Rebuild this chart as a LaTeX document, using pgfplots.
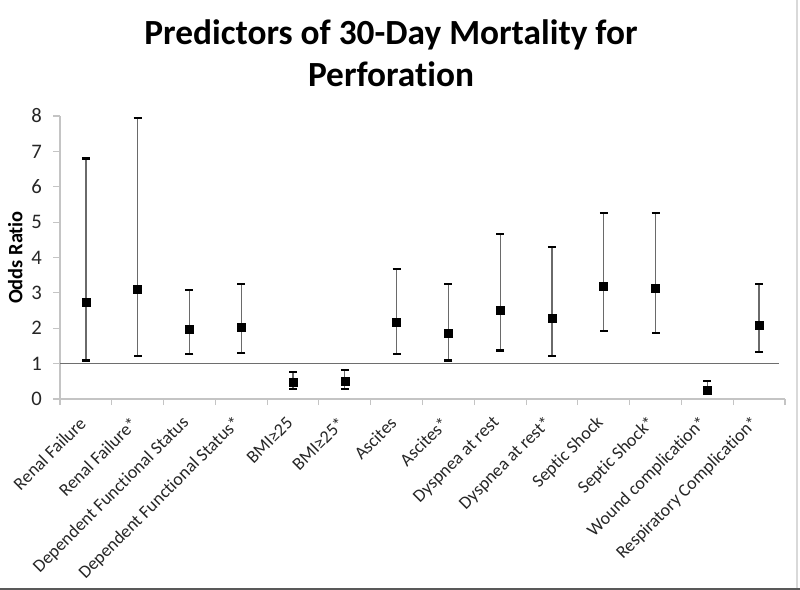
\documentclass[border=0pt]{standalone}
\usepackage{pgfplots}
\pgfplotsset{compat=1.18}
\usepackage{pgfplotstable}
\usepackage{fontspec}
\setmainfont{Carlito}[Ligatures={NoCommon}]
\definecolor{axisgray}{HTML}{C4C4C4}
\definecolor{refgray}{HTML}{6E6E6E}
\definecolor{bargray}{HTML}{6A6A6A}
\pgfplotstableread{
x y hi lo
0 2.73 6.80 1.09
1 3.10 7.94 1.21
2 1.97 3.07 1.27
3 2.03 3.25 1.29
4 0.48 0.77 0.29
5 0.51 0.82 0.29
6 2.16 3.67 1.27
7 1.87 3.26 1.09
8 2.51 4.67 1.37
9 2.28 4.30 1.21
10 3.19 5.27 1.93
11 3.13 5.25 1.86
12 0.25 0.52 0.15
13 2.08 3.26 1.34
}\data
\begin{document}
\begin{tikzpicture}
\path[use as bounding box] (0,0) rectangle (600bp,442.5bp);
\begin{axis}[
  at={(45bp,143.25bp)}, anchor=south west,
  scale only axis, width=543.75bp, height=212.25bp,
  xmin=-0.5, xmax=13.5, ymin=0, ymax=8,
  axis lines*=left,
  axis line style={axisgray, line width=0.8bp},
  tick align=outside,
  ytick={0,1,...,8},
  xtick={0,1,...,13},
  minor xtick={-0.5,0.5,...,13.5},
  major x tick style={draw=none},
  minor x tick style={axisgray, line width=0.8bp},
  y tick style={axisgray, line width=0.8bp},
  major tick length=5bp, minor tick length=4.5bp,
  xticklabels={Renal Failure, Renal Failure*, Dependent Functional Status, Dependent Functional Status*, BMI≥25, BMI≥25*, Ascites, Ascites*, Dyspnea at rest, Dyspnea at rest*, Septic Shock, Septic Shock*, Wound complication*, Respiratory Complication*},
  xticklabel style={yshift=-8.5bp, font=\fontsize{13.5bp}{16bp}\selectfont, rotate=45, anchor=east, text=black!85},
  yticklabel style={font=\fontsize{15.5bp}{18bp}\selectfont, text=black!85, xshift=-5bp},
  /pgf/number format/assume math mode=true,
  ylabel={Odds Ratio},
  every axis y label/.style={at={(axis description cs:-0.0617,0.5)}, rotate=90, anchor=center, font=\bfseries\fontsize{15.3bp}{18bp}\selectfont},
  clip=false,
]
\addplot[refgray, line width=1.1bp] coordinates {(-0.5,1) (13.38,1)};
\addplot[only marks, mark=square*, mark size=3bp, black,
  error bars/.cd, y dir=both, y explicit,
  error bar style={bargray, line width=1bp},
  error mark options={black, line width=1.6bp, mark size=3bp, rotate=90}]
  table[x=x, y=y, y error plus expr=\thisrow{hi}-\thisrow{y}, y error minus expr=\thisrow{y}-\thisrow{lo}] {\data};
\end{axis}
\node[font=\bfseries\fontsize{26.5bp}{32bp}\selectfont, anchor=base] at (293.25bp,408.75bp) {Predictors of 30-Day Mortality for};
\node[font=\bfseries\fontsize{26.5bp}{32bp}\selectfont, anchor=base] at (293.25bp,377.25bp) {Perforation};
\fill[black!65] (0,0) rectangle (600bp,1.5bp);
\draw[black!15, line width=0.8bp] (597.75bp,1.5bp) -- (597.75bp,442.5bp);
\end{tikzpicture}
\end{document}
